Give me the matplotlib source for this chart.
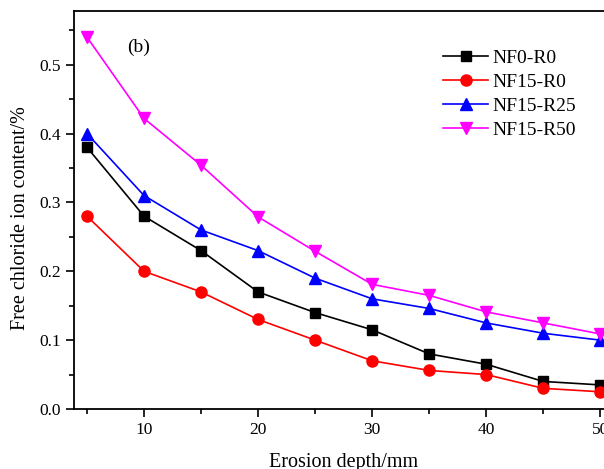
import matplotlib.pyplot as plt
from matplotlib.ticker import MultipleLocator

plt.rcParams['font.family'] = ['Liberation Serif', 'DejaVu Serif']
plt.rcParams['mathtext.fontset'] = 'stix'

# erosion depth (mm) and free chloride content (%)
depth = [5, 10, 15, 20, 25, 30, 35, 40, 45, 50]
nf0_r0 = [0.38, 0.28, 0.23, 0.17, 0.14, 0.115, 0.08, 0.065, 0.04, 0.035]
nf15_r0 = [0.28, 0.20, 0.17, 0.13, 0.10, 0.07, 0.056, 0.05, 0.03, 0.025]
nf15_r25 = [0.40, 0.31, 0.26, 0.23, 0.19, 0.16, 0.146, 0.125, 0.11, 0.10]
nf15_r50 = [0.54, 0.422, 0.354, 0.279, 0.229, 0.181, 0.165, 0.141, 0.125, 0.109]

fig = plt.figure(figsize=(6.04, 4.69), dpi=100)
ax = fig.add_axes([74/604, 60/469, 532/604, 398/469])

ax.plot(depth, nf0_r0, '-s', color='black', lw=1.2, ms=7.5, label='NF0-R0')
ax.plot(depth, nf15_r0, '-o', color='red', lw=1.2, ms=8, label='NF15-R0')
ax.plot(depth, nf15_r25, '-^', color='blue', lw=1.2, ms=8.5, label='NF15-R25')
ax.plot(depth, nf15_r50, '-v', color='magenta', lw=1.2, ms=8.5, label='NF15-R50')

ax.set_xlim(3.86, 50.5)
ax.set_ylim(0, 0.578)
ax.xaxis.set_major_locator(MultipleLocator(10))
ax.xaxis.set_minor_locator(MultipleLocator(5))
ax.yaxis.set_major_locator(MultipleLocator(0.1))
ax.yaxis.set_minor_locator(MultipleLocator(0.05))
ax.tick_params(which='major', direction='out', length=6, width=1.2, labelsize=12.5)
ax.tick_params(which='minor', direction='out', length=3.5, width=1.2)
ax.tick_params(top=False, right=False)
for s in ax.spines.values():
    s.set_linewidth(1.3)

ax.set_xlabel('Erosion depth/mm', fontsize=14.5)
ax.xaxis.set_label_coords(0.506, -0.11)
ax.xaxis.label.set_va('top')
ax.set_ylabel('Free chloride ion content/%', fontsize=14.5)
ax.yaxis.set_label_coords(-0.082, 0.48)
ax.text(0.0996, 0.9095, '(b)', transform=ax.transAxes, fontsize=14, va='center')

ax.legend(loc='upper left', bbox_to_anchor=(0.694, 0.9045), frameon=False,
          fontsize=14, handlelength=2.3, handletextpad=0.25, labelspacing=0.34,
          borderaxespad=0, borderpad=0)

fig.savefig('out.png', dpi=100)
